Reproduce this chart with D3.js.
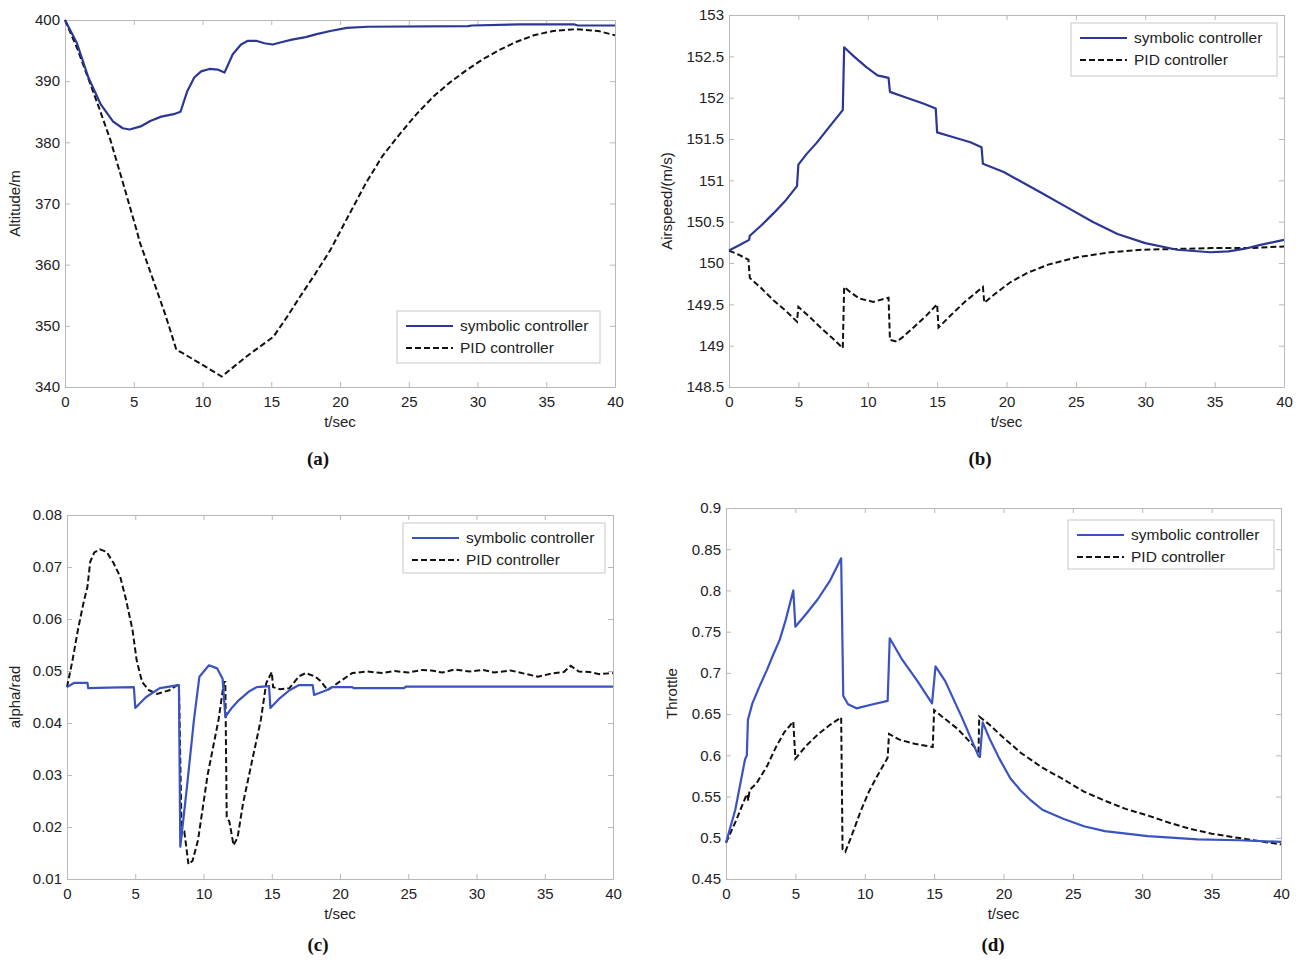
<!DOCTYPE html>
<html>
<head>
<meta charset="utf-8">
<script src="https://cdn.jsdelivr.net/npm/d3@7"></script>
<style>
  body { margin: 0; background: #fff; }
  text { font-family: "Liberation Sans", Arial, sans-serif; }
</style>
</head>
<body>
<script>
// ---- data ----
var tTicks = [0, 5, 10, 15, 20, 25, 30, 35, 40];
var seriesNames = ["symbolic controller", "PID controller"];

// (a) altitude
var altTicks = [340, 350, 360, 370, 380, 390, 400];
var altSym = [[0,400],[0.87,396.2],[1.7,390.6],[2.6,386.2],[3.5,383.4],[4.2,382.3],[4.7,382.1],[5.5,382.6],[6.2,383.5],[7.0,384.2],[7.9,384.6],[8.4,385],[8.9,388.4],[9.4,390.6],[9.9,391.6],[10.5,392],[11.1,391.9],[11.6,391.4],[12.2,394.4],[12.8,396],[13.3,396.6],[13.9,396.6],[14.5,396.2],[15.1,396],[15.8,396.4],[16.5,396.8],[17.5,397.2],[18.3,397.7],[19.3,398.2],[20.5,398.7],[22,398.9],[29.3,399],[29.6,399.1],[33.1,399.3],[37,399.3],[37.3,399.1],[40,399.1]];
var altPid = [[0,400],[0.9,395.3],[1.7,390.4],[2.5,385.5],[3.3,380.4],[4.2,373.5],[5.2,365.7],[5.45,363.6],[6.4,357.6],[7.3,351.8],[8.1,346.1],[8.5,345.6],[9.8,343.9],[11.4,341.7],[13.2,345],[15.15,348.2],[16.1,351.3],[17.1,354.8],[18.2,358.5],[19.3,362.4],[20.5,367.5],[21.9,373.4],[23.1,377.8],[24.4,381.5],[25.6,384.7],[26.8,387.5],[28,389.8],[29.2,391.8],[30.4,393.6],[31.6,395.1],[32.8,396.4],[34.1,397.5],[35.5,398.2],[37.2,398.5],[38.8,398.2],[40,397.5]];

// (b) airspeed
var spdTicks = [148.5, 149, 149.5, 150, 150.5, 151, 151.5, 152, 152.5, 153];
var spdSym = [[0,150.15],[0.8,150.22],[1.45,150.28],[1.5,150.33],[2.3,150.45],[3.2,150.6],[4.1,150.76],[4.9,150.93],[5.0,151.19],[5.6,151.32],[6.3,151.45],[7.2,151.64],[8.2,151.85],[8.3,152.61],[9.0,152.5],[9.9,152.37],[10.7,152.27],[11.5,152.24],[11.6,152.07],[12.8,152.0],[14.0,151.93],[14.9,151.87],[15.0,151.58],[16.0,151.53],[17.4,151.46],[18.2,151.4],[18.3,151.2],[19.8,151.1],[21.2,150.97],[22.6,150.84],[24.4,150.67],[26.2,150.5],[28,150.35],[30,150.24],[32.3,150.16],[34.7,150.13],[36,150.14],[37.1,150.17],[38.3,150.22],[40,150.28]];
var spdPid = [[0,150.15],[0.7,150.1],[1.4,150.04],[1.5,149.82],[2.3,149.7],[3.2,149.55],[4.1,149.42],[4.9,149.29],[5.0,149.47],[5.8,149.35],[6.6,149.22],[7.4,149.1],[8.2,148.97],[8.3,149.71],[8.8,149.64],[9.4,149.57],[10.4,149.53],[11.5,149.58],[11.6,149.07],[12.1,149.05],[12.5,149.1],[13.3,149.22],[14.2,149.36],[15.0,149.5],[15.1,149.22],[16.0,149.37],[17.0,149.53],[18.3,149.71],[18.4,149.52],[19.2,149.63],[20.3,149.77],[21.5,149.88],[23,149.98],[25.1,150.07],[27.5,150.13],[29.8,150.16],[34.7,150.18],[37.5,150.18],[40,150.2]];

// (c) angle of attack
var alphaTicks = [0.01, 0.02, 0.03, 0.04, 0.05, 0.06, 0.07, 0.08];
var alphaSym = [[0,0.0469],[0.5,0.0477],[1.5,0.0477],[1.55,0.0467],[3,0.0468],[4.9,0.0469],[5.0,0.0429],[5.8,0.045],[6.8,0.0467],[8.2,0.0473],[8.3,0.0162],[8.8,0.028],[9.3,0.0406],[9.7,0.0489],[10.4,0.0511],[11.0,0.0505],[11.4,0.0485],[11.6,0.0412],[12.1,0.043],[12.6,0.0444],[13.3,0.046],[13.9,0.0469],[14.8,0.0471],[14.9,0.0429],[15.6,0.0448],[16.3,0.0463],[17.0,0.0473],[18.0,0.0473],[18.1,0.0454],[19.0,0.0463],[19.4,0.0469],[20.9,0.0469],[21.0,0.0467],[24.7,0.0467],[24.8,0.047],[40,0.047]];
var alphaPid = [[0,0.0469],[0.4,0.052],[0.8,0.0579],[1.2,0.063],[1.5,0.0662],[1.7,0.071],[2.0,0.0728],[2.4,0.0734],[2.9,0.0729],[3.4,0.0708],[3.9,0.0681],[4.3,0.064],[4.8,0.0579],[5.1,0.0521],[5.5,0.0479],[6.0,0.0463],[6.6,0.0456],[7.5,0.0463],[8.2,0.0475],[8.4,0.0184],[8.6,0.019],[8.9,0.0128],[9.2,0.0135],[9.6,0.0175],[10.3,0.03],[11.1,0.0406],[11.5,0.0479],[11.6,0.0479],[11.7,0.0219],[11.9,0.021],[12.2,0.0165],[12.5,0.018],[12.9,0.0246],[13.5,0.032],[14.2,0.0406],[14.6,0.0477],[15.0,0.0498],[15.1,0.0469],[15.6,0.0465],[16.3,0.0467],[17.0,0.049],[17.5,0.0496],[18.2,0.0489],[18.6,0.048],[19.1,0.0463],[20.0,0.048],[20.9,0.0496],[22,0.0499],[23.1,0.0496],[24,0.05],[25,0.0497],[26,0.0502],[26.7,0.0501],[27.5,0.0497],[28.4,0.0503],[29.5,0.0499],[30.5,0.0502],[31.3,0.0497],[32.5,0.0501],[33.5,0.0495],[34.5,0.0489],[35.5,0.0495],[36.4,0.0498],[36.9,0.051],[37.5,0.0499],[38.3,0.0498],[39,0.0494],[40,0.0496]];

// (d) throttle
var thrTicks = [0.45, 0.5, 0.55, 0.6, 0.65, 0.7, 0.75, 0.8, 0.85, 0.9];
var thrSym = [[0,0.494],[0.67,0.534],[1.37,0.595],[1.5,0.6],[1.58,0.643],[1.9,0.663],[2.4,0.683],[2.96,0.704],[3.4,0.722],[3.87,0.74],[4.3,0.764],[4.85,0.8],[5.0,0.756],[5.8,0.772],[6.6,0.789],[7.5,0.812],[8.3,0.839],[8.45,0.672],[8.8,0.662],[9.4,0.657],[10.6,0.662],[11.65,0.666],[11.8,0.742],[12.7,0.716],[13.8,0.69],[14.85,0.663],[15.1,0.708],[15.8,0.69],[17.0,0.646],[18.2,0.599],[18.3,0.598],[18.5,0.64],[19.0,0.62],[19.7,0.596],[20.5,0.572],[21.25,0.557],[22.0,0.545],[22.8,0.534],[24.3,0.523],[25.8,0.514],[27.3,0.508],[30.4,0.502],[34,0.498],[37,0.497],[40,0.495]];
var thrPid = [[0,0.494],[0.7,0.52],[1.43,0.55],[1.55,0.553],[1.6,0.545],[1.7,0.558],[2.2,0.566],[2.96,0.587],[3.6,0.61],[4.2,0.628],[4.85,0.641],[5.0,0.596],[5.8,0.612],[6.6,0.625],[7.5,0.637],[8.3,0.646],[8.4,0.486],[8.6,0.483],[9.0,0.5],[9.7,0.532],[10.3,0.556],[10.9,0.575],[11.65,0.597],[11.75,0.626],[12.5,0.619],[13.6,0.614],[14.9,0.61],[15.0,0.655],[15.5,0.648],[16.7,0.632],[18.2,0.605],[18.25,0.647],[19.0,0.637],[19.7,0.626],[20.5,0.614],[21.25,0.603],[22.8,0.585],[24.3,0.571],[25.8,0.556],[27.3,0.545],[28.8,0.535],[30.4,0.527],[32,0.518],[33.4,0.511],[35,0.505],[36.5,0.501],[38,0.497],[40,0.492]];

// ---- drawing ----
var svg = d3.select("body").append("svg")
  .attr("width", 1304)
  .attr("height", 962);

var axisColor = "#b8b8b8";
var textColor = "#222";

function drawPanel(p) {
  var x = d3.scaleLinear().domain([0, 40]).range([p.left, p.right]);
  var y = d3.scaleLinear().domain([p.yTicks[0], p.yTicks[p.yTicks.length - 1]]).range([p.bottom, p.top]);
  var g = svg.append("g");

  // axes, MATLAB style: ticks point inward on all four sides
  var axes = [
    [d3.axisBottom(x).tickValues(tTicks).tickFormat(String), "translate(0," + p.bottom + ")"],
    [d3.axisTop(x).tickValues(tTicks).tickFormat(""), "translate(0," + p.top + ")"],
    [d3.axisLeft(y).tickValues(p.yTicks).tickFormat(String), "translate(" + p.left + ",0)"],
    [d3.axisRight(y).tickValues(p.yTicks).tickFormat(""), "translate(" + p.right + ",0)"]
  ];
  axes.forEach(function (a, i) {
    var ax = g.append("g")
      .attr("transform", a[1])
      .call(a[0].tickSizeInner(-5).tickSizeOuter(0).tickPadding(i == 2 ? 5 : 9));
    ax.select(".domain").attr("stroke", axisColor);
    ax.selectAll(".tick line").attr("stroke", axisColor);
    ax.selectAll(".tick text")
      .attr("fill", textColor)
      .style("font-size", "15px")
      .style("font-family", "'Liberation Sans', Arial, sans-serif");
  });

  var line = d3.line()
    .x(function (d) { return x(d[0]); })
    .y(function (d) { return y(d[1]); });

  g.append("path").datum(p.pid)
    .attr("d", line)
    .attr("fill", "none")
    .attr("stroke", "#111")
    .attr("stroke-width", 2)
    .attr("stroke-dasharray", "6,3");

  g.append("path").datum(p.sym)
    .attr("d", line)
    .attr("fill", "none")
    .attr("stroke", p.blue)
    .attr("stroke-width", 2.2)
    .attr("stroke-linejoin", "round");

  // axis titles
  g.append("text")
    .attr("x", (p.left + p.right) / 2)
    .attr("y", p.bottom + 40)
    .attr("text-anchor", "middle")
    .attr("fill", textColor)
    .style("font-size", "15px")
    .text("t/sec");

  g.append("text")
    .attr("transform", "translate(" + p.yLabelX + "," + (p.top + p.bottom) / 2 + ") rotate(-90)")
    .attr("text-anchor", "middle")
    .attr("fill", textColor)
    .style("font-size", "15px")
    .text(p.yLabel);

  g.append("text")
    .attr("x", p.capX)
    .attr("y", p.capY)
    .attr("text-anchor", "middle")
    .attr("fill", "#111")
    .style("font-family", "'Liberation Serif', 'Times New Roman', serif")
    .style("font-weight", "bold")
    .style("font-size", "19px")
    .text(p.caption);

  // legend
  var lg = g.append("g").attr("transform", "translate(" + p.leg[0] + "," + p.leg[1] + ")");
  lg.append("rect")
    .attr("width", p.leg[2]).attr("height", p.leg[3])
    .attr("fill", "#fff")
    .attr("stroke", "#c8c8c8");
  seriesNames.forEach(function (name, i) {
    var ry = 15 + i * 22;
    lg.append("line")
      .attr("x1", 9).attr("x2", 56)
      .attr("y1", ry).attr("y2", ry)
      .attr("stroke", i == 0 ? p.blue : "#111")
      .attr("stroke-width", 2)
      .attr("stroke-dasharray", i == 0 ? null : "6,3");
    lg.append("text")
      .attr("x", 63).attr("y", ry + 5)
      .attr("fill", textColor)
      .style("font-size", "15.5px")
      .text(name);
  });
}

drawPanel({ left: 65, right: 615, top: 20, bottom: 387, yTicks: altTicks, sym: altSym, pid: altPid,
  blue: "#2c3794", yLabel: "Altitude/m", yLabelX: 20, caption: "(a)", capX: 318, capY: 465,
  leg: [397, 311, 203, 52] });
drawPanel({ left: 729, right: 1284, top: 15, bottom: 387, yTicks: spdTicks, sym: spdSym, pid: spdPid,
  blue: "#2c3794", yLabel: "Airspeed/(m/s)", yLabelX: 672, caption: "(b)", capX: 980, capY: 465,
  leg: [1071, 23, 206, 53] });
drawPanel({ left: 67, right: 613, top: 515, bottom: 879, yTicks: alphaTicks, sym: alphaSym, pid: alphaPid,
  blue: "#3a52c2", yLabel: "alpha/rad", yLabelX: 20, caption: "(c)", capX: 318, capY: 951,
  leg: [403, 523, 202, 50] });
drawPanel({ left: 726, right: 1281, top: 508, bottom: 879, yTicks: thrTicks, sym: thrSym, pid: thrPid,
  blue: "#3a52c2", yLabel: "Throttle", yLabelX: 677, caption: "(d)", capX: 993, capY: 951,
  leg: [1068, 520, 206, 49] });
</script>
</body>
</html>
